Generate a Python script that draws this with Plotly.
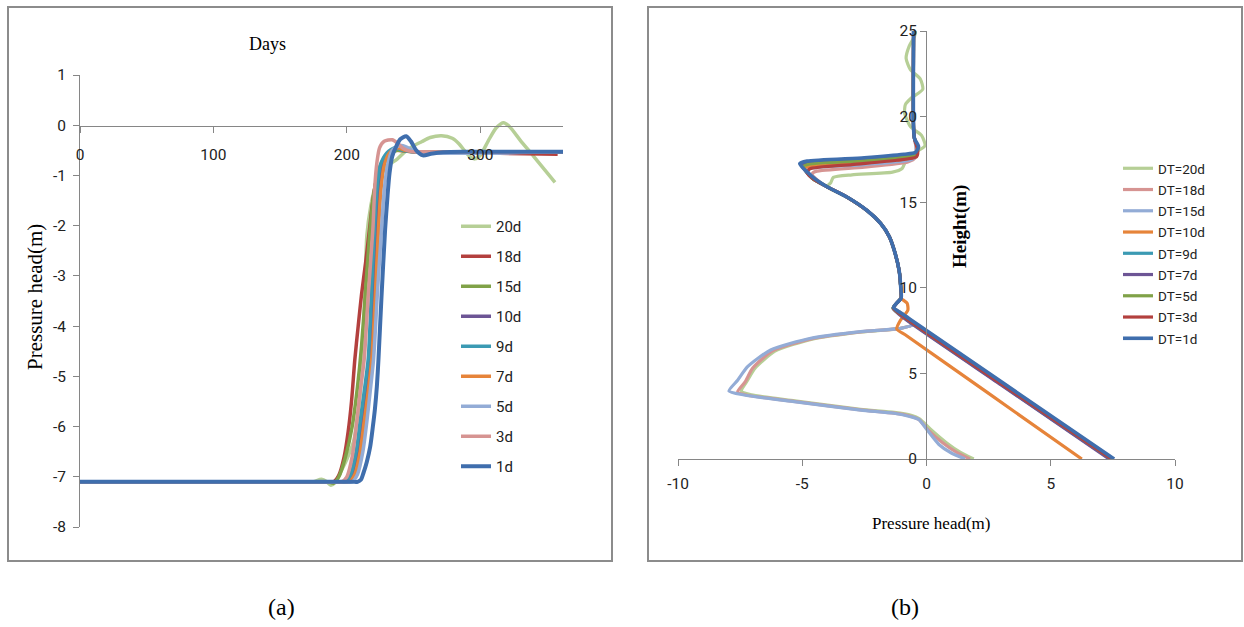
import plotly.graph_objects as go

W, H = 1244, 627

# ---------------- Panel (a): pressure head vs days ----------------
A_NAMES = ["20d", "18d", "15d", "10d", "9d", "7d", "5d", "3d", "1d"]
A_COLORS = ["#B6CF96", "#B3403E", "#80A248", "#6D5595", "#3B9AB3", "#E6843A", "#93ACD6", "#D69492", "#3F6EAD"]

A_DAYS_20 = [0, 170, 175, 181, 185, 188, 191, 195, 200, 205, 209, 212, 213.5, 215, 218, 221, 225, 231, 237.5, 244, 250, 256, 262.5, 271, 279, 284, 288, 292, 296, 300, 306, 312, 317.5, 322, 330, 340, 356]
A_HEAD_20 = [-7.1, -7.1, -7.1, -7.05, -7.1, -7.17, -7.12, -6.92, -6.65, -6.3, -5.6, -4.66, -3.4, -2.2, -1.6, -1.25, -1.0, -0.8, -0.68, -0.52, -0.41, -0.33, -0.245, -0.21, -0.26, -0.37, -0.5, -0.62, -0.67, -0.6, -0.31, -0.05, 0.05, -0.03, -0.3, -0.62, -1.14]

A_DAYS_18 = [0, 186, 190, 194, 198, 201, 203.5, 206, 208.5, 211, 214, 217, 219, 222, 226, 231, 237, 245, 260, 300, 358]
A_HEAD_18 = [-7.1, -7.1, -7.1, -6.97, -6.6, -6.1, -5.5, -4.66, -4.0, -3.37, -2.75, -2.07, -1.6, -1.1, -0.75, -0.55, -0.5, -0.52, -0.54, -0.55, -0.58]

A_DAYS_15 = [0, 182, 186, 190, 194, 199, 204, 208, 211, 214, 217, 220, 224, 230, 238, 250, 362]
A_HEAD_15 = [-7.1, -7.1, -7.1, -7.13, -7.0, -6.6, -6.0, -5.2, -4.4, -3.3, -2.2, -1.4, -0.9, -0.6, -0.5, -0.53, -0.53]

A_DAYS_10 = [0, 196, 200, 204, 208, 211, 214, 217.5, 220, 222, 224, 226.5, 231, 237, 243, 251, 362]
A_HEAD_10 = [-7.1, -7.1, -7.1, -6.95, -6.5, -5.9, -5.3, -4.66, -3.3, -2.07, -1.3, -0.8, -0.55, -0.45, -0.5, -0.53, -0.53]

A_DAYS_9 = [0, 195, 199, 203, 207, 210, 213, 216, 218.5, 220.7, 222.5, 225, 230, 236, 242, 250, 362]
A_HEAD_9 = [-7.1, -7.1, -7.1, -6.95, -6.5, -5.9, -5.3, -4.66, -3.3, -2.07, -1.3, -0.8, -0.55, -0.45, -0.5, -0.53, -0.53]

A_DAYS_7 = [0, 198, 202, 206, 210, 213, 216, 218.7, 221.5, 223.7, 225.5, 228, 232, 238, 244, 252, 362]
A_HEAD_7 = [-7.1, -7.1, -7.1, -6.95, -6.5, -5.9, -5.3, -4.66, -3.3, -2.07, -1.3, -0.8, -0.55, -0.45, -0.5, -0.53, -0.53]

A_DAYS_5 = [0, 200, 204, 208, 212, 215, 217.5, 220, 223, 226, 228, 230.5, 234, 240, 246, 252, 362]
A_HEAD_5 = [-7.1, -7.1, -7.1, -6.95, -6.5, -5.9, -5.3, -4.66, -3.3, -2.07, -1.3, -0.8, -0.5, -0.4, -0.45, -0.53, -0.53]

A_DAYS_3 = [0, 192, 196, 200, 204, 207, 210, 213, 216, 219.5, 221, 222.5, 224.5, 228, 234, 238, 242, 248, 255, 362]
A_HEAD_3 = [-7.1, -7.1, -7.1, -7.0, -6.6, -6.0, -5.3, -4.66, -3.4, -2.07, -1.2, -0.75, -0.45, -0.32, -0.29, -0.36, -0.46, -0.52, -0.53, -0.53]

A_DAYS_1 = [0, 204, 208, 210.5, 212.5, 215, 217.5, 219.5, 221, 222.5, 223.7, 226, 228.7, 230.5, 232, 234, 237, 240, 244.5, 248, 252, 257, 263, 272, 290, 362]
A_HEAD_1 = [-7.1, -7.1, -7.1, -7.06, -6.92, -6.7, -6.4, -6.0, -5.66, -5.2, -4.66, -3.4, -2.07, -1.4, -0.95, -0.62, -0.42, -0.28, -0.22, -0.32, -0.5, -0.6, -0.57, -0.54, -0.53, -0.53]

A_X = [A_DAYS_20, A_DAYS_18, A_DAYS_15, A_DAYS_10, A_DAYS_9, A_DAYS_7, A_DAYS_5, A_DAYS_3, A_DAYS_1]
A_Y = [A_HEAD_20, A_HEAD_18, A_HEAD_15, A_HEAD_10, A_HEAD_9, A_HEAD_7, A_HEAD_5, A_HEAD_3, A_HEAD_1]

A_XTICKS = [0, 100, 200, 300]
A_YTICKS = [1, 0, -1, -2, -3, -4, -5, -6, -7, -8]

# ---------------- Panel (b): height vs pressure head ----------------
B_NAMES = ["DT=20d", "DT=18d", "DT=15d", "DT=10d", "DT=9d", "DT=7d", "DT=5d", "DT=3d", "DT=1d"]
B_COLORS = ["#B6CF96", "#D69492", "#93ACD6", "#E6843A", "#3B9AB3", "#6D5595", "#80A248", "#B3403E", "#3F6EAD"]

# shared middle section (from the kink near 9 m up to 16 m)
B_MID_P = [-1.2, -1.02, -1.04, -1.1, -1.3, -1.5, -1.85, -2.38, -3.2, -4.0]
B_MID_H = [9.1, 9.4, 10.1, 11.0, 12.2, 13.0, 13.77, 14.5, 15.3, 15.9]
# shared top section (vertical near -0.5 m)
B_TOP_P = [-0.48, -0.52, -0.52]
B_TOP_H = [18.7, 19.3, 25]

# lower part of DT=20d / 18d / 15d
B_LOW20_P = [1.9, 1.35, 0.8, 0.15, -0.28, -0.62, -1.3, -2.65, -5.3, -7.05, -7.45, -7.2, -6.9, -6.1, -4.6, -2.6, -1.04, -0.55, -0.78, -1.33]
B_LOW20_H = [0, 0.4, 0.95, 1.75, 2.35, 2.55, 2.72, 2.9, 3.4, 3.75, 3.97, 4.6, 5.3, 6.3, 7.0, 7.42, 7.63, 7.85, 8.3, 8.85]
B_LOW18_P = [1.75, 1.2, 0.65, 0.05, -0.3, -0.64, -1.31, -2.65, -5.33, -7.2, -7.6, -7.3, -7.0, -6.2, -4.65, -2.65, -1.04, -0.55, -0.78, -1.33]
B_LOW18_H = [0, 0.4, 0.95, 1.72, 2.3, 2.5, 2.68, 2.87, 3.37, 3.72, 3.92, 4.5, 5.3, 6.32, 7.02, 7.43, 7.63, 7.85, 8.3, 8.85]
B_LOW15_P = [1.55, 1.0, 0.5, 0.03, -0.3, -0.64, -1.31, -2.65, -5.33, -7.34, -7.95, -7.6, -7.2, -6.27, -4.66, -2.65, -1.04, -0.55, -0.78, -1.33]
B_LOW15_H = [0, 0.35, 0.85, 1.69, 2.3, 2.47, 2.67, 2.86, 3.35, 3.74, 3.97, 4.6, 5.39, 6.37, 7.05, 7.44, 7.63, 7.85, 8.3, 8.85]

# lower straight part (10d offset, others near 7.5 m at the base)
B_LOW10_P = [6.25, 2.5, -0.8, -1.2, -1.05, -0.75, -0.78, -1.0, -1.02]
B_LOW10_H = [0, 3.83, 7.2, 7.6, 8.1, 8.7, 9.1, 9.35, 9.4]
B_LOW9_P = [7.4, 3.0, -0.9, -1.33]
B_LOW9_H = [0, 4.35, 8.25, 8.8]
B_LOW7_P = [7.35, 3.0, -0.9, -1.35]
B_LOW7_H = [0, 4.33, 8.22, 8.8]
B_LOW5_P = [7.45, 3.0, -0.9, -1.35]
B_LOW5_H = [0, 4.42, 8.3, 8.82]
B_LOW3_P = [7.45, 3.0, -0.9, -1.33]
B_LOW3_H = [0, 4.4, 8.3, 8.8]
B_LOW1_P = [7.55, 3.07, -0.9, -1.33]
B_LOW1_H = [0, 4.45, 8.4, 8.85]

# upper tips (16-19 m)
B_TIP20_P = [-3.85, -3.75, -3.0, -1.37, -0.98, -0.84, -0.51, -0.06, -0.2, -0.64, -0.88, -0.85, -0.6, -0.15, -0.25, -0.65, -0.82, -0.7, -0.48, -0.45]
B_TIP20_H = [16.15, 16.45, 16.6, 16.76, 16.97, 17.4, 17.86, 18.3, 18.9, 19.4, 20.2, 20.7, 21.1, 21.6, 22.2, 22.75, 23.4, 24.1, 24.7, 25]
B_TIP18_P = [-4.4, -4.6, -4.45, -2.5, -0.75, -0.45, -0.42]
B_TIP18_H = [16.3, 16.65, 16.8, 17.05, 17.35, 17.6, 18.2]
B_TIP15_P = [-4.5, -4.8, -4.6, -2.5, -0.7, -0.45, -0.42]
B_TIP15_H = [16.35, 16.85, 17.0, 17.2, 17.45, 17.65, 18.2]
B_TIP10_P = [-4.5, -4.9, -4.7, -2.5, -0.7, -0.42, -0.38]
B_TIP10_H = [16.35, 16.95, 17.1, 17.3, 17.55, 17.7, 18.2]
B_TIP9_P = [-4.6, -5.0, -4.8, -2.5, -0.8, -0.42, -0.35]
B_TIP9_H = [16.4, 17.15, 17.3, 17.5, 17.7, 17.8, 18.2]
B_TIP7_P = [-4.6, -5.0, -4.8, -2.5, -0.8, -0.42, -0.35]
B_TIP7_H = [16.4, 17.12, 17.28, 17.48, 17.68, 17.8, 18.2]
B_TIP5_P = [-4.6, -4.95, -4.75, -2.5, -0.8, -0.42, -0.35]
B_TIP5_H = [16.4, 17.08, 17.22, 17.42, 17.65, 17.78, 18.2]
B_TIP3_P = [-4.5, -4.8, -4.7, -3.0, -1.2, -0.4, -0.35]
B_TIP3_H = [16.3, 16.7, 16.95, 17.2, 17.45, 17.65, 18.0]
B_TIP1_P = [-4.6, -5.1, -4.8, -2.5, -0.9, -0.45, -0.32]
B_TIP1_H = [16.5, 17.25, 17.4, 17.6, 17.8, 17.9, 18.25]

B_XTICKS = [-10, -5, 0, 5, 10]
B_YTICKS = [0, 5, 10, 15, 20, 25]


def join(*parts):
    out = []
    for p in parts:
        out.extend(p)
    return out


B_X = [
    join(B_LOW20_P, B_MID_P, B_TIP20_P),
    join(B_LOW18_P, B_MID_P, B_TIP18_P, B_TOP_P),
    join(B_LOW15_P, B_MID_P, B_TIP15_P, B_TOP_P),
    join(B_LOW10_P, B_MID_P[2:], B_TIP10_P, B_TOP_P),
    join(B_LOW9_P, B_MID_P, B_TIP9_P, B_TOP_P),
    join(B_LOW7_P, B_MID_P, B_TIP7_P, B_TOP_P),
    join(B_LOW5_P, B_MID_P, B_TIP5_P, B_TOP_P),
    join(B_LOW3_P, B_MID_P, B_TIP3_P, B_TOP_P),
    join(B_LOW1_P, B_MID_P, B_TIP1_P, B_TOP_P),
]
B_Y = [
    join(B_LOW20_H, B_MID_H, B_TIP20_H),
    join(B_LOW18_H, B_MID_H, B_TIP18_H, B_TOP_H),
    join(B_LOW15_H, B_MID_H, B_TIP15_H, B_TOP_H),
    join(B_LOW10_H, B_MID_H[2:], B_TIP10_H, B_TOP_H),
    join(B_LOW9_H, B_MID_H, B_TIP9_H, B_TOP_H),
    join(B_LOW7_H, B_MID_H, B_TIP7_H, B_TOP_H),
    join(B_LOW5_H, B_MID_H, B_TIP5_H, B_TOP_H),
    join(B_LOW3_H, B_MID_H, B_TIP3_H, B_TOP_H),
    join(B_LOW1_H, B_MID_H, B_TIP1_H, B_TOP_H),
]

# ---------------- figure ----------------
SANS = "Roboto, Liberation Sans, sans-serif"
SERIF = "Liberation Serif, Times New Roman, serif"
AXC = "#868686"


def px(x):
    return x / W


def py(y):
    return 1 - y / H


fig = go.Figure()

for i, name in enumerate(A_NAMES):
    fig.add_trace(go.Scatter(
        x=A_X[i], y=A_Y[i], mode="lines", name=name,
        line=dict(color=A_COLORS[i], width=3.5 if name != "1d" else 4, shape="spline", smoothing=0.7),
        xaxis="x", yaxis="y", legend="legend", legendgroup="a" + name,
    ))

for i, name in enumerate(B_NAMES):
    fig.add_trace(go.Scatter(
        x=B_X[i], y=B_Y[i], mode="lines", name=name,
        line=dict(color=B_COLORS[i], width=3.2 if name != "DT=1d" else 3.6, shape="spline", smoothing=0.6),
        xaxis="x2", yaxis="y2", legend="legend2", legendgroup="b" + name,
    ))

tickfont = dict(family=SANS, size=15.5, color="#222222")
axis_common = dict(showline=True, linecolor=AXC, linewidth=1, ticks="outside", ticklen=6, tickcolor=AXC,
                   tickfont=tickfont, showgrid=False, zeroline=False, automargin=False)


def label(text, x, y, size, angle=0):
    return dict(text=text, x=px(x), y=py(y), xref="paper", yref="paper", showarrow=False,
                xanchor="center", yanchor="middle", textangle=angle,
                font=dict(family=SERIF, size=size, color="black"))


fig.update_layout(
    width=W, height=H,
    margin=dict(l=0, r=0, t=0, b=0, pad=0, autoexpand=False),
    paper_bgcolor="white", plot_bgcolor="rgba(0,0,0,0)",
    showlegend=True,
    xaxis=dict(
        domain=[px(80), px(563)], range=[0, 362], anchor="free", position=py(126),
        tickvals=A_XTICKS, ticktext=[str(v) for v in A_XTICKS], ticklabelstandoff=8, **axis_common,
    ),
    yaxis=dict(
        domain=[py(527), py(75)], range=[-8, 1], anchor="x",
        tickvals=A_YTICKS, ticktext=[str(v) for v in A_YTICKS], ticklabelstandoff=4, **axis_common,
    ),
    xaxis2=dict(
        domain=[px(678), px(1175)], range=[-10, 10], anchor="y2",
        tickvals=B_XTICKS, ticktext=[str(v) for v in B_XTICKS], ticklabelstandoff=4, **axis_common,
    ),
    yaxis2=dict(
        domain=[py(459), py(31)], range=[0, 25], anchor="free", position=px(926),
        tickvals=B_YTICKS, ticktext=[str(v) for v in B_YTICKS], ticklabelstandoff=0, **axis_common,
    ),
    legend=dict(
        x=px(456), y=py(210), xanchor="left", yanchor="top",
        font=dict(family=SANS, size=15, color="#222222"),
        bgcolor="rgba(0,0,0,0)", tracegroupgap=7.5, itemwidth=30,
    ),
    legend2=dict(
        x=px(1118), y=py(153), xanchor="left", yanchor="top",
        font=dict(family=SANS, size=13.5, color="#222222"),
        bgcolor="rgba(0,0,0,0)", tracegroupgap=0.7, itemwidth=30,
    ),
    shapes=[
        dict(type="rect", xref="paper", yref="paper", x0=px(8), x1=px(612), y0=py(561), y1=py(7),
             line=dict(color="#8C8C8C", width=2), layer="below"),
        dict(type="rect", xref="paper", yref="paper", x0=px(648), x1=px(1242), y0=py(561), y1=py(7),
             line=dict(color="#8C8C8C", width=2), layer="below"),
    ],
    annotations=[
        label("Days", 267, 44, 18),
        label("Pressure head(m)", 35, 297, 21, -90),
        label("Pressure head(m)", 932, 523, 17),
        label("<b>Height(m)</b>", 960, 226, 19, -90),
        label("(a)", 281, 607, 24),
        label("(b)", 905, 607, 24),
    ],
)

fig.write_html("out.html")
